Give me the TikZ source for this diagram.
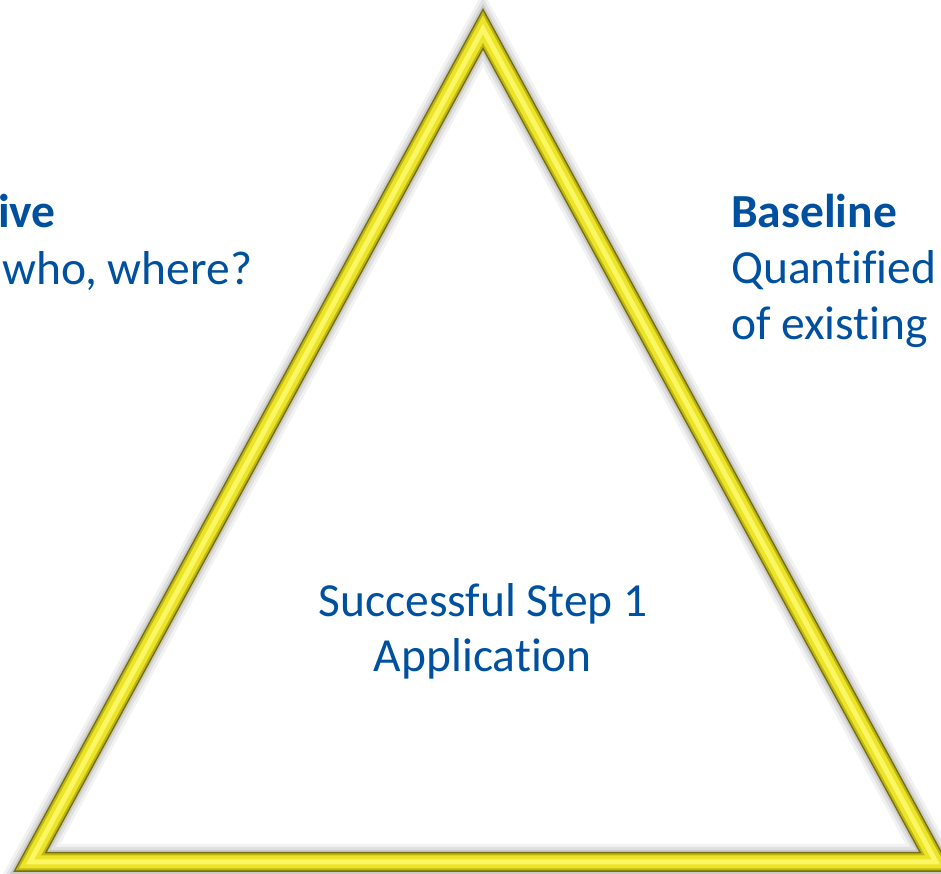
\documentclass[tikz,border=0pt]{standalone}
\usepackage{fontspec}
\setmainfont{Carlito}[Ligatures=NoCommon]
\definecolor{txtblue}{RGB}{0,80,160}
\definecolor{olivedark}{RGB}{120,112,10}
\definecolor{olivemid}{RGB}{190,182,20}
\definecolor{yelmain}{RGB}{236,228,40}
\definecolor{yelhi}{RGB}{250,246,100}
\tikzset{
  lbl/.style={inner sep=0pt, text=txtblue, font=\fontsize{47.5}{57}\selectfont},
  lblb/.style={lbl, font=\fontsize{47.5}{57}\selectfont\bfseries},
  tri/.style={line join=miter, miter limit=10}
}
\begin{document}
\begin{tikzpicture}[x=1pt,y=1pt]
\useasboundingbox (0,0) rectangle (941,874);
\coordinate (A) at (483,845);
\coordinate (L) at (30,12);
\coordinate (R) at (936,12);
% shadow
\begin{scope}[shift={(-7,-5)}]
\foreach \w/\o in {36/0.05,30/0.07,24/0.10,18/0.14}{
  \draw[tri, black, opacity=\o, line width=\w pt] (A) -- (L) -- (R) -- cycle;
}
\end{scope}
% bevelled frame
\draw[tri, olivedark, line width=20pt] (A) -- (L) -- (R) -- cycle;
\begin{scope}[shift={(-1,1)}]
\draw[tri, olivemid, line width=17pt] (A) -- (L) -- (R) -- cycle;
\end{scope}
\begin{scope}[shift={(-1.8,1.8)}]
\draw[tri, yelmain, line width=13pt] (A) -- (L) -- (R) -- cycle;
\end{scope}
\begin{scope}[shift={(-1.5,1.5)}]
\draw[tri, yelhi, line width=5pt] (A) -- (L) -- (R) -- cycle;
\end{scope}
% texts
\node[lblb, anchor=base east] (obj) at (56,646) {ive};
\node[lbl, anchor=base west] (who) at (2,589) {who, where?};
\node[lblb, anchor=base west] (base) at (731,646) {Baseline};
\node[lbl, anchor=base west] (quant) at (731,590) {Quantified};
\node[lbl, anchor=base west] (exist) at (731,534) {of existing};
\node[lbl, anchor=base] (succ) at (483,257) {Successful Step 1};
\node[lbl, anchor=base] (appl) at (483,202) {Application};
\end{tikzpicture}
\end{document}
